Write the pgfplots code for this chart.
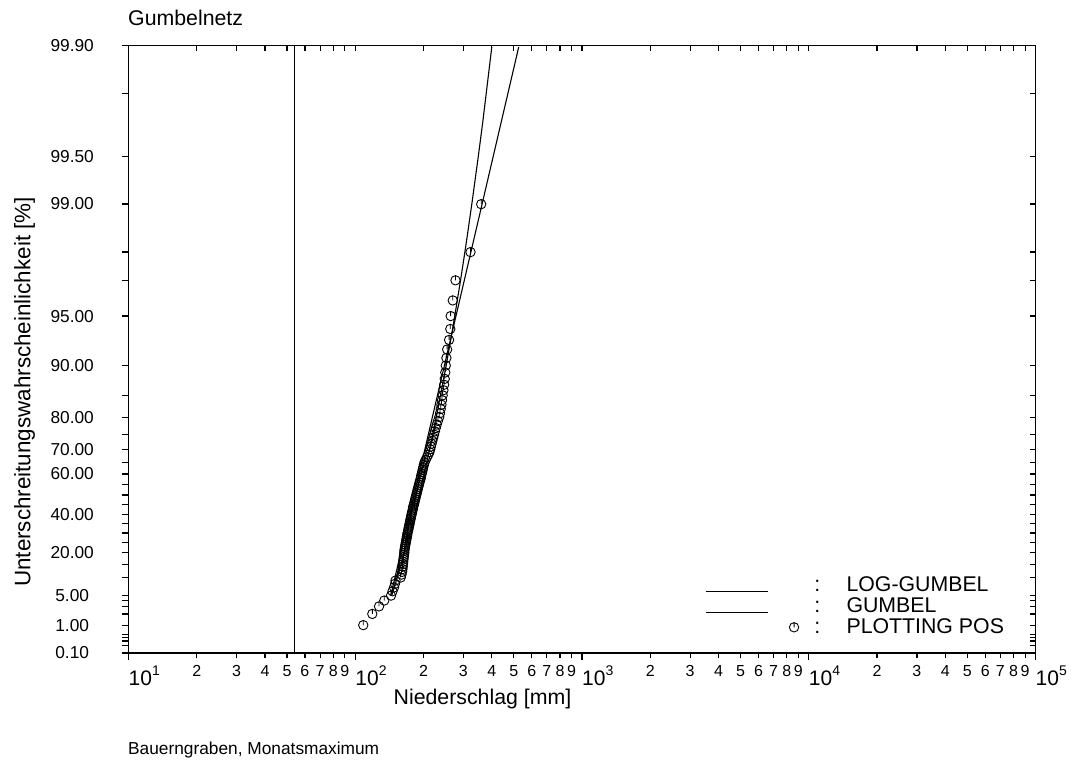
\documentclass[border=0pt]{standalone}
\usepackage{fontspec}
\setmainfont{Liberation Sans}
\usepackage{pgfplots}
\usepackage{pgfplotstable}
\pgfplotsset{compat=1.18}

\newcommand\fs[1]{\fontsize{#1bp}{#1bp}\selectfont}
\newcommand\tenpow[1]{\fs{21}10\raisebox{10bp}{\fs{14}#1}}

% plotting-position marker: open circle with a stroke from the top to the centre
\pgfdeclareplotmark{ppos}{%
  \pgfpathcircle{\pgfpointorigin}{\pgfplotmarksize}%
  \pgfpathmoveto{\pgfqpoint{0pt}{\pgfplotmarksize}}%
  \pgfpathlineto{\pgfpointorigin}%
  \pgfusepathqstroke}

% legend samples: line on the baseline, marker further right
\pgfplotsset{
  legline/.style={legend image code/.code={\draw[##1] (0bp,0bp) -- (62bp,0bp); \path[draw=none,fill=none] (0bp,0bp) rectangle (98bp,12bp);}},
  legmark/.style={legend image code/.code={\path[draw=none,fill=none] (0bp,0bp) rectangle (98bp,12bp); \draw[##1] plot coordinates {(88.5bp,6.5bp)};}},
}

% monthly maxima [mm] with plotting positions P = i/(n+1)
\pgfplotstableread{
mm P
108.5 0.01
118.9 0.02
127.3 0.03
134.3 0.04
143.8 0.05
146.0 0.06
148.2 0.07
149.7 0.08
150.5 0.09
158.6 0.10
160.0 0.11
161.0 0.12
161.5 0.13
162.0 0.14
162.4 0.15
162.8 0.16
163.2 0.17
163.6 0.18
164.0 0.19
164.6 0.20
164.6 0.21
165.3 0.22
165.8 0.23
166.4 0.24
167.1 0.25
167.7 0.26
168.3 0.27
169.0 0.28
169.6 0.29
170.0 0.30
171.0 0.31
171.6 0.32
172.3 0.33
173.0 0.34
173.7 0.35
174.4 0.36
175.1 0.37
175.8 0.38
176.5 0.39
177.3 0.40
178.1 0.41
178.9 0.42
179.8 0.43
180.0 0.44
181.5 0.45
182.2 0.46
183.1 0.47
184.0 0.48
184.9 0.49
185.9 0.50
186.8 0.51
187.8 0.52
188.8 0.53
189.8 0.54
190.9 0.55
192.0 0.56
193.0 0.57
194.5 0.58
195.0 0.59
196.3 0.60
197.4 0.61
198.5 0.62
199.6 0.63
200.8 0.64
202.0 0.65
204.5 0.66
207.0 0.67
209.8 0.68
212.5 0.69
214.0 0.70
215.6 0.71
217.2 0.72
218.9 0.73
220.7 0.74
222.6 0.75
224.5 0.76
226.5 0.77
228.8 0.78
231.6 0.79
234.6 0.80
236.5 0.81
238.2 0.82
239.9 0.83
241.4 0.84
243.0 0.85
244.8 0.86
246.6 0.87
248.1 0.88
249.4 0.89
250.8 0.90
252.3 0.91
254.3 0.92
259.3 0.93
262.5 0.94
263.5 0.95
269.2 0.96
276.7 0.97
322.3 0.98
359.3 0.99
}\tblpos

% fitted Gumbel distribution (linear in x)
\pgfplotstableread{
mm P
144.9 0.05
153.3 0.10
164.7 0.20
174.0 0.30
182.7 0.40
191.6 0.50
201.3 0.60
212.8 0.70
227.7 0.80
251.7 0.90
263.6 0.93
274.7 0.95
291.3 0.97
304.4 0.98
313.6 0.985
326.6 0.99
348.8 0.995
365.2 0.997
378.1 0.998
400.2 0.999
}\tblgum

% fitted log-Gumbel distribution (linear in log x)
\pgfplotstableread{
mm P
143.4 0.05
526.2 0.999
}\tbllog

\begin{document}
\begin{tikzpicture}
% top and right frame: ticks pointing inwards
\begin{axis}[
  at={(0,0)}, anchor=south west, scale only axis,
  width=907bp, height=607.5bp,
  xmode=log, xmin=10, xmax=100000,
  ymin=-1.932645, ymax=6.90727,
  axis x line*=top, axis y line*=right,
  axis line style={line width=1.6bp},
  every tick/.style={black, line width=1.2bp},
  xminorticks=false, yminorticks=false,
  xtick={10,100,1000,10000,100000},
  ytick={-1.93264,-1.82690,-1.75943,-1.70864,-1.66740,-1.52718,-1.36405,-1.25464,-1.16903,-1.09719,-0.83403,-0.64033,-0.47588,-0.32663,-0.18563,-0.04862,0.08742,0.22504,0.36651,0.51444,0.67173,0.84215,1.03093,1.24590,1.49994,1.81696,2.25037,2.97020,3.49130,3.90194,4.60015,5.29581,6.21361,6.90726},
  extra x ticks={20,30,40,50,60,70,80,90,200,300,400,500,600,700,800,900,2000,3000,4000,5000,6000,7000,8000,9000,20000,30000,40000,50000,60000,70000,80000,90000},
  tick align=inside,
  major tick length=6bp,
  xticklabels={}, yticklabels={}, extra x tick labels={},
  extra x tick style={major tick length=5.5bp},
]
\end{axis}
% bottom and left frame with labels, ticks pointing outwards
\begin{axis}[
  at={(0,0)}, anchor=south west, scale only axis,
  width=907bp, height=607.5bp,
  xmode=log, xmin=10, xmax=100000,
  ymin=-1.932645, ymax=6.90727,
  axis x line*=bottom, axis y line*=left,
  axis line style={line width=1.6bp},
  every tick/.style={black, line width=1.2bp},
  xminorticks=false, yminorticks=false,
  xtick={10,100,1000,10000,100000},
  ytick={-1.93264,-1.82690,-1.75943,-1.70864,-1.66740,-1.52718,-1.36405,-1.25464,-1.16903,-1.09719,-0.83403,-0.64033,-0.47588,-0.32663,-0.18563,-0.04862,0.08742,0.22504,0.36651,0.51444,0.67173,0.84215,1.03093,1.24590,1.49994,1.81696,2.25037,2.97020,3.49130,3.90194,4.60015,5.29581,6.21361,6.90726},
  extra x ticks={20,30,40,50,60,70,80,90,200,300,400,500,600,700,800,900,2000,3000,4000,5000,6000,7000,8000,9000,20000,30000,40000,50000,60000,70000,80000,90000},
  tick align=outside,
  major tick length=7bp,
  xticklabels={\tenpow{1},\tenpow{2},\tenpow{3},\tenpow{4},\tenpow{5}},
  xticklabel style={anchor=north west, inner sep=0pt, yshift=-5.5bp},
  extra x tick labels={2,3,4,5,6,7,8,9,2,3,4,5,6,7,8,9,2,3,4,5,6,7,8,9,2,3,4,5,6,7,8,9},
  extra x tick style={major tick length=5bp,
    xticklabel style={anchor=north, font=\fs{16}, yshift=-2bp}},
  yticklabels={0.10,{},{},{},{},1.00,{},{},{},5.00,{},{},20.00,{},{},{},40.00,{},{},{},60.00,{},70.00,{},80.00,{},90.00,95.00,{},{},99.00,99.50,{},99.90},
  yticklabel style={anchor=center, inner sep=0pt, font=\fs{17.3}, xshift=-49.3bp},
  legend style={at={(0.63561,0.12099)}, anchor=north west, draw=none, fill=none,
    inner sep=0pt, outer sep=0pt, row sep=8.6bp, column sep=0pt, font=\fs{21.3},
    nodes={inner sep=0pt, text height=12bp, text depth=0bp},
    cells={anchor=base west}},
]
\addplot[forget plot, line width=1.1bp] coordinates {(54.1,-1.932645) (54.1,6.90727)};
\addplot[line width=1.1bp, legline]
  table[x=mm, y expr={-ln(-ln(\thisrow{P}))}] {\tbllog};
\addlegendentry{\makebox[43bp][l]{\hspace{10.7bp}:}LOG-GUMBEL}
\addplot[line width=1.1bp, legline]
  table[x=mm, y expr={-ln(-ln(\thisrow{P}))}] {\tblgum};
\addlegendentry{\makebox[43bp][l]{\hspace{10.7bp}:}GUMBEL}
\addplot[only marks, mark=ppos, mark size=4.7bp, mark options={line width=0.9bp}, legmark]
  table[x=mm, y expr={-ln(-ln(\thisrow{P}))}] {\tblpos};
\addlegendentry{\makebox[43bp][l]{\hspace{10.7bp}:}PLOTTING POS}
\end{axis}
\node[anchor=base west, inner sep=0pt, font=\fs{21.3}] at (-0.5bp,627bp) {Gumbelnetz};
\node[anchor=base west, inner sep=0pt, font=\fs{21.3}] at (265bp,-51.5bp) {Niederschlag [mm]};
\node[rotate=90, anchor=base west, inner sep=0pt, font=\fs{22.4}] at (-98bp,66bp) {Unterschreitungswahrscheinlichkeit [\%]};
\node[anchor=base west, inner sep=0pt, font=\fs{17.3}] at (-0.5bp,-101bp) {Bauerngraben, Monatsmaximum};
\pgfresetboundingbox
\path[use as bounding box] (-128.5bp,-110bp) rectangle (945.5bp,653bp);
\end{tikzpicture}
\end{document}
